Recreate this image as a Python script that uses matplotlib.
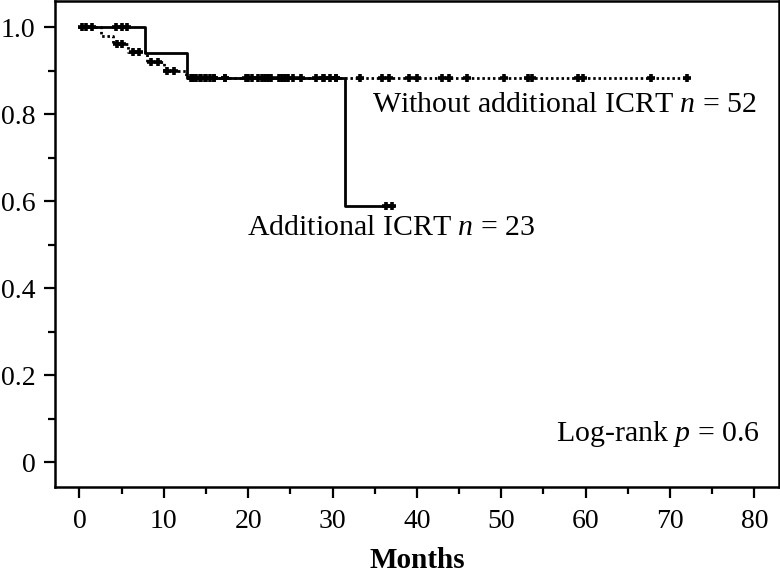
import matplotlib
matplotlib.use("Agg")
import matplotlib.pyplot as plt
import numpy as np

# Kaplan-Meier steps (time in months, survival after step)
add_times = [0, 7.8, 12.8, 31.5]
add_surv = [1.0, 0.941, 0.884, 0.588]
add_end = 37.2
add_censor = [0.3, 0.8, 1.5, 4.3, 5.0, 5.6, 13.5, 14.3, 15.0, 16.0, 17.3, 20.0,
              21.6, 22.4, 24.0, 24.7, 29.0, 30.4, 36.3, 37.0]

wo_times = [0, 2.5, 4.0, 5.8, 8.0, 10.0, 12.6]
wo_surv = [1.0, 0.981, 0.962, 0.942, 0.921, 0.900, 0.884]
wo_end = 72.2
wo_censor = [4.4, 5.1, 6.3, 7.0, 8.5, 9.3, 10.4, 11.2, 13.2, 13.8, 14.4, 14.9,
             15.5, 15.9, 17.3, 19.7, 20.4, 21.2, 22.0, 22.7, 23.6, 24.4, 25.3,
             26.3, 28.0, 28.9, 29.7, 30.4, 33.2, 35.9, 36.7, 39.1, 40.0, 43.0,
             43.8, 45.9, 50.3, 53.2, 53.6, 59.1, 59.7, 67.7, 72.0]

x_ticks = [0, 10, 20, 30, 40, 50, 60, 70, 80]
y_ticks = [0, 0.2, 0.4, 0.6, 0.8, 1.0]
y_labels = ["0", "0.2", "0.4", "0.6", "0.8", "1.0"]

plt.rcParams["font.family"] = ["Liberation Serif", "DejaVu Serif"]
plt.rcParams["mathtext.fontset"] = "custom"
plt.rcParams["mathtext.it"] = "Liberation Serif:italic"
plt.rcParams["mathtext.rm"] = "Liberation Serif"


def km_plot(ax, times, surv, end, censor, ls):
    t = list(times) + [end]
    s = list(surv) + [surv[-1]]
    ax.step(t, s, where="post", color="black", lw=2.0, linestyle=ls)
    idx = np.searchsorted(times, censor, side="right") - 1
    cy = np.array(surv)[idx]
    ax.plot(censor, cy, linestyle="none", marker="+", color="black",
            markersize=6, markeredgewidth=2.6)


fig = plt.figure(figsize=(7.8, 5.73), dpi=100)
ax = fig.add_axes([0.0705, 0.150, 0.928, 0.848])

km_plot(ax, wo_times, wo_surv, wo_end, wo_censor, (0, (0.9, 1.0)))
km_plot(ax, add_times, add_surv, add_end, add_censor, "-")

ax.set_xlim(-2.9, 82.9)
ax.set_ylim(-0.057, 1.06)
ax.set_xticks(x_ticks)
ax.set_xticks(np.arange(5, 80, 10), minor=True)
ax.set_yticks(y_ticks)
ax.set_yticklabels(y_labels)
ax.set_yticks(np.arange(0.1, 1.0, 0.2), minor=True)
ax.tick_params(which="major", length=8, width=1.6, labelsize=20, color="black")
ax.tick_params(which="minor", length=5, width=1.6)
ax.tick_params(axis="x", which="major", pad=8)
ax.tick_params(axis="y", which="major", pad=6)
for sp in ax.spines.values():
    sp.set_linewidth(1.8)

ax.set_xlabel("Months", fontsize=21, fontweight="bold", labelpad=9)

ax.text(0.438, 0.786, "Without additional ICRT $\\mathit{n}$ = 52", fontsize=21.5,
        transform=ax.transAxes, ha="left", va="center")
ax.text(0.265, 0.533, "Additional ICRT $\\mathit{n}$ = 23", fontsize=21.5,
        transform=ax.transAxes, ha="left", va="center")
ax.text(0.974, 0.109, "Log-rank $\\mathit{p}$ = 0.6", fontsize=21.5,
        transform=ax.transAxes, ha="right", va="center")

fig.savefig("out.png", dpi=100)
